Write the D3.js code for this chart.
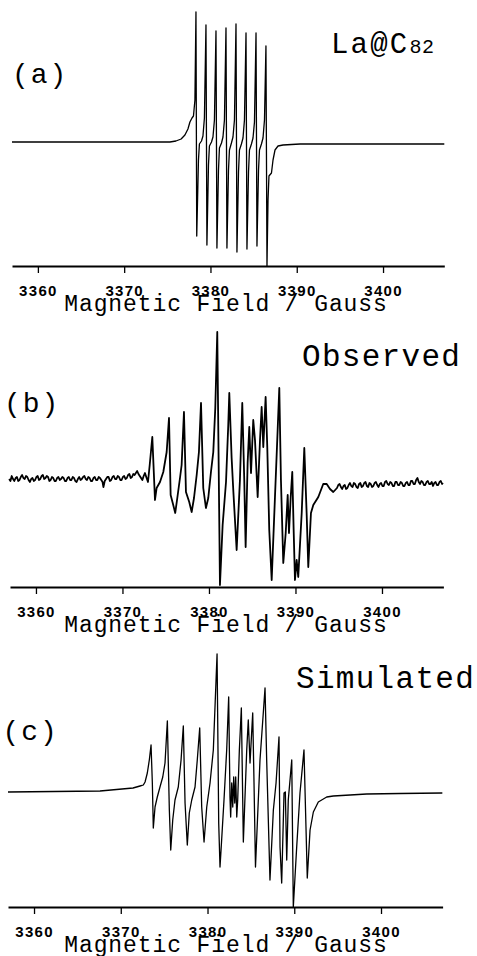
<!DOCTYPE html>
<html>
<head>
<meta charset="utf-8">
<script src="https://cdn.jsdelivr.net/npm/d3@7"></script>
<style>
  body { margin: 0; background: #fff; }
  .trace { fill: none; stroke: #000; stroke-linejoin: round; }
  .axis path, .axis line { stroke: #000; }
  .axis path { stroke-width: 2; }
  .axis line { stroke-width: 1.3; }
  .mono { font-family: "Liberation Mono", "Courier New", monospace; fill: #000; }
</style>
</head>
<body>
<div id="esr"></div>
<script>

// field axis (gauss)
var fieldDomain = [3357, 3407.1];
var fieldTicks = [3360, 3370, 3380, 3390, 3400];
var axisTitle = "Magnetic Field / Gauss";

// (a) La@C82 spectrum: [field, signal] (arbitrary units, baseline = 0)
var spectrumA = [
  [3357.0, 1], [3367.2, 1], [3375.3, 1], [3376.0, 2], [3376.6, 4], [3377.04, 8],
  [3377.39, 14], [3377.62, 21], [3377.86, 25], [3378.03, 27], [3378.20, 43],
  [3378.32, 131], [3378.41, -93], [3378.61, -17], [3378.72, -1], [3378.96, 2], [3379.13, 7], [3379.30, 25],
  [3379.48, 118], [3379.59, -102], [3379.77, -22], [3379.88, -3], [3380.12, 1], [3380.29, 6], [3380.46, 23],
  [3380.64, 112], [3380.75, -105], [3380.93, -27], [3381.04, -5], [3381.28, 0], [3381.45, 6], [3381.62, 23],
  [3381.80, 115], [3381.91, -105], [3382.09, -27], [3382.20, -7], [3382.43, 0], [3382.61, 6], [3382.78, 23],
  [3382.96, 119], [3383.07, -109], [3383.25, -29], [3383.36, -7], [3383.59, -1], [3383.77, 5], [3383.94, 23],
  [3384.12, 110], [3384.23, -106], [3384.41, -29], [3384.52, -7], [3384.75, -1], [3384.93, 5], [3385.10, 21],
  [3385.28, 110], [3385.39, -103], [3385.57, -27], [3385.68, -7], [3385.91, -1], [3386.09, 5], [3386.26, 23],
  [3386.43, 97], [3386.55, -123], [3386.67, -57], [3386.78, -33], [3387.07, -30], [3387.25, -17],
  [3387.48, -7], [3387.83, -3], [3388.41, -2], [3390.38, -1], [3407.1, -1]
];

// (b) observed spectrum (noisy baseline read point by point)
var spectrumB = [
  [3356.9, 1], [3357.05, -1], [3357.2, 4], [3357.35, 1], [3357.5, -1], [3357.65, 2], [3357.8, 3],
  [3357.95, -1], [3358.1, 0], [3358.25, 3], [3358.4, 5], [3358.55, 2], [3358.7, 1], [3358.85, 4],
  [3359.0, 3], [3359.15, 0], [3359.3, -2], [3359.45, 1], [3359.6, 2], [3359.75, -1], [3359.9, 0],
  [3360.05, 3], [3360.2, 4], [3360.35, 0], [3360.5, 1], [3360.65, 4], [3360.8, 5], [3360.95, 1],
  [3361.1, 2], [3361.25, 4], [3361.4, 3], [3361.55, -1], [3361.7, 0], [3361.85, 3], [3362.0, 2],
  [3362.15, -1], [3362.3, -1], [3362.45, 2], [3362.6, 3], [3362.75, 0], [3362.9, 1], [3363.05, 3],
  [3363.2, 2], [3363.35, -1], [3363.5, -1], [3363.65, 2], [3363.8, 3], [3363.95, 0], [3364.1, 0],
  [3364.25, 3], [3364.4, 2], [3364.55, -1], [3364.7, -2], [3364.85, 1], [3365.0, 3], [3365.15, 0],
  [3365.3, 1], [3365.45, 3], [3365.6, 4], [3365.75, 1], [3365.9, 0], [3366.05, 3], [3366.2, 2],
  [3366.35, -1], [3366.5, -1], [3366.65, 2], [3366.8, 3], [3366.95, 0], [3367.1, 0], [3367.25, 3],
  [3367.4, 2], [3367.55, 0], [3367.7, -2], [3367.8, -7], [3367.95, -1], [3368.1, 1], [3368.25, 3],
  [3368.4, 3], [3368.55, -1], [3368.7, 0], [3368.85, 3], [3369.0, 4], [3369.15, 1], [3369.3, 1],
  [3369.45, 4], [3369.6, 3], [3369.75, 0], [3369.9, 0], [3370.05, 3], [3370.2, 4], [3370.35, 1],
  [3370.5, 2], [3370.65, 5], [3370.8, 6], [3370.95, 2], [3371.1, 3], [3371.25, 6], [3371.4, 5],
  [3371.55, 7], [3371.7, 9], [3371.85, 6], [3372.0, 4], [3372.15, 2], [3372.3, 0], [3372.45, 4],
  [3372.6, 7], [3372.75, 3],
  [3372.95, -2], [3373.15, 15], [3373.45, 43], [3373.76, -20], [3373.95, -8], [3374.34, -2],
  [3374.72, 8], [3375.11, 28], [3375.38, 62], [3375.57, -15], [3375.87, -25], [3376.10, -33],
  [3376.34, -18], [3376.65, 2], [3376.84, 15], [3377.11, 68], [3377.34, -12], [3377.72, -22],
  [3378.00, -32], [3378.27, -18], [3378.58, 5], [3378.84, 28], [3379.08, 77], [3379.34, -8],
  [3379.65, -28], [3379.92, -18], [3380.23, 8], [3380.50, 28], [3380.73, 72], [3380.96, 148],
  [3381.27, -105], [3381.58, -45], [3381.97, -2], [3382.23, 55], [3382.35, 87], [3382.62, 22],
  [3382.81, -10], [3383.20, -70], [3383.58, 0], [3383.85, 77], [3384.08, 0], [3384.24, -67],
  [3384.47, 17], [3384.66, 53], [3384.86, 7], [3385.12, 60], [3385.32, 40], [3385.63, -17],
  [3385.90, 40], [3386.09, 73], [3386.28, 33], [3386.55, 83], [3386.74, 33], [3386.97, -50],
  [3387.25, -100], [3387.63, -17], [3387.94, 50], [3388.13, 92], [3388.32, 0], [3388.59, -83],
  [3388.87, -53], [3389.10, -15], [3389.25, -53], [3389.45, -17], [3389.63, 8], [3389.79, -50],
  [3389.94, -100], [3390.14, -80], [3390.32, -97], [3390.72, -33], [3391.02, 32], [3391.29, -33],
  [3391.48, -87], [3391.79, -33], [3392.06, -25], [3392.64, -17], [3393.21, -4], [3393.61, -4],
  [3393.99, -9], [3394.37, -12],
  [3394.8, -8], [3394.95, -5], [3395.1, -4], [3395.25, -7], [3395.4, -9], [3395.55, -6], [3395.7, -5],
  [3395.85, -9], [3396.0, -8], [3396.15, -5], [3396.3, -3], [3396.45, -6], [3396.6, -7], [3396.75, -3],
  [3396.9, -4], [3397.05, -7], [3397.2, -8], [3397.35, -4], [3397.5, -3], [3397.65, -7], [3397.8, -6],
  [3397.95, -3], [3398.1, -2], [3398.25, -6], [3398.4, -7], [3398.55, -3], [3398.7, -4], [3398.85, -7],
  [3399.0, -6], [3399.15, -3], [3399.3, -2], [3399.45, -5], [3399.6, -7], [3399.75, -4], [3399.9, -3],
  [3400.05, -6], [3400.2, -6], [3400.35, -2], [3400.5, -1], [3400.65, -4], [3400.8, -5], [3400.95, -2],
  [3401.1, -3], [3401.25, -6], [3401.4, -6], [3401.55, -2], [3401.7, -2], [3401.85, -5], [3402.0, -5],
  [3402.15, -2], [3402.3, -3], [3402.45, -6], [3402.6, -6], [3402.75, -3], [3402.9, -2], [3403.05, -5],
  [3403.2, -5], [3403.35, -1], [3403.5, -1], [3403.65, -4], [3403.8, -4], [3403.95, 0], [3404.1, 2],
  [3404.25, -2], [3404.4, -4], [3404.55, -1], [3404.7, -2], [3404.85, -5], [3405.0, -5], [3405.15, -2],
  [3405.3, -1], [3405.45, -4], [3405.6, -4], [3405.75, -2], [3405.9, -6], [3406.05, -3], [3406.2, -2],
  [3406.35, -5], [3406.5, -5], [3406.65, -2], [3406.8, -1], [3406.95, -4], [3407.05, -3]
];

// (c) simulated spectrum
var spectrumC = [
  [3357.0, 0], [3367.61, 1], [3371.41, 4], [3372.22, 6], [3372.60, 7], [3372.80, 10], [3373.06, 19],
  [3373.29, 32], [3373.49, 47], [3373.64, 9], [3373.75, -36], [3373.95, -15], [3374.21, -5],
  [3374.52, 5], [3374.84, 15], [3375.10, 29], [3375.37, 71], [3375.60, -18], [3375.76, -58],
  [3375.99, -28], [3376.25, -8], [3376.63, 5], [3376.95, 32], [3377.21, 66], [3377.41, -11],
  [3377.67, -53], [3377.90, -21], [3378.18, -8], [3378.56, 5], [3378.82, 32], [3379.10, 64],
  [3379.33, -15], [3379.60, -50], [3379.91, -15], [3380.29, 9], [3380.67, 42], [3381.10, 138],
  [3381.29, -31], [3381.44, -75], [3381.56, -58], [3381.90, -8], [3382.21, 42], [3382.44, 95],
  [3382.59, -5], [3382.67, -25], [3382.79, 9], [3382.91, -15], [3383.02, 15], [3383.14, -11],
  [3383.25, 15], [3383.37, -25], [3383.48, -8], [3383.67, 42], [3383.90, 84], [3384.13, -50],
  [3384.52, 42], [3384.70, 72], [3384.90, 29], [3385.21, 79], [3385.36, 9], [3385.53, -75],
  [3386.05, 32], [3386.63, 104], [3386.82, 32], [3387.20, -88], [3387.59, -18], [3387.90, 9],
  [3388.24, 55], [3388.36, -55], [3388.55, -91], [3388.82, -1], [3388.97, 0], [3389.13, -68],
  [3389.31, -8], [3389.71, 32], [3389.89, -115], [3390.28, -55], [3390.66, -1], [3391.12, 42],
  [3391.35, -35], [3391.50, -86], [3391.82, -38], [3392.20, -20], [3392.77, -10], [3393.74, -5],
  [3394.50, -4], [3396.43, -3], [3398.35, -2], [3402.19, -1.5], [3407.07, -1]
];

// panel placement
var panels = [
  { data: spectrumA, xRange: [12, 444.3], axisY: 266, baseY: 143, width: 1.3,
    label: "(a)", labelX: 12, labelY: 83, name: "La@C", sub: "82", nameX: 331, nameY: 53 },
  { data: spectrumB, xRange: [10, 443.4], axisY: 587, baseY: 480, width: 1.8,
    label: "(b)", labelX: 4, labelY: 412, name: "Observed", nameX: 302, nameY: 366 },
  { data: spectrumC, xRange: [8, 442.6], axisY: 907, baseY: 792, width: 1.3,
    label: "(c)", labelX: 2.5, labelY: 740, name: "Simulated", nameX: 296, nameY: 688 }
];

var svg = d3.select("#esr").append("svg")
    .attr("width", 477)
    .attr("height", 956);

panels.forEach(function(p) {

  // set the ranges
  var x = d3.scaleLinear().domain(fieldDomain).range(p.xRange);
  var y = d3.scaleLinear().domain([-100, 100]).range([p.baseY + 100, p.baseY - 100]);

  var valueline = d3.line()
      .x(function(d) { return x(d[0]); })
      .y(function(d) { return y(d[1]); });

  // add the spectrum
  svg.append("path")
      .datum(p.data)
      .attr("class", "trace")
      .attr("stroke-width", p.width)
      .attr("d", valueline);

  // add the x axis
  var ax = svg.append("g")
      .attr("class", "axis")
      .attr("transform", "translate(0," + p.axisY + ")")
      .call(d3.axisBottom(x).tickValues(fieldTicks).tickSize(7).tickSizeOuter(0).tickPadding(12)
        .tickFormat(d3.format("d")));
  ax.selectAll("text")
      .attr("font-family", "'Liberation Sans', Arial, sans-serif")
      .attr("font-weight", "bold")
      .attr("font-size", 15)
      .attr("letter-spacing", 1.3)
      .attr("fill", "#000");

  // axis title
  svg.append("text")
      .attr("class", "mono")
      .attr("x", 226)
      .attr("y", p.axisY + 45)
      .attr("text-anchor", "middle")
      .style("font-size", "23px")
      .style("letter-spacing", "0.9px")
      .text(axisTitle);

  // panel letter
  svg.append("text")
      .attr("class", "mono")
      .attr("x", p.labelX)
      .attr("y", p.labelY)
      .style("font-size", "28px")
      .style("letter-spacing", "2px")
      .text(p.label);

  // panel name
  var t = svg.append("text")
      .attr("class", "mono")
      .attr("x", p.nameX)
      .attr("y", p.nameY)
      .style("font-size", p.sub ? "29px" : "31px")
      .style("letter-spacing", p.sub ? "2.2px" : "1.3px")
      .text(p.name);
  if (p.sub) {
    t.append("tspan")
        .style("font-size", "20px")
        .style("letter-spacing", "0.5px")
        .text(p.sub);
  }
});

</script>
</body>
</html>
